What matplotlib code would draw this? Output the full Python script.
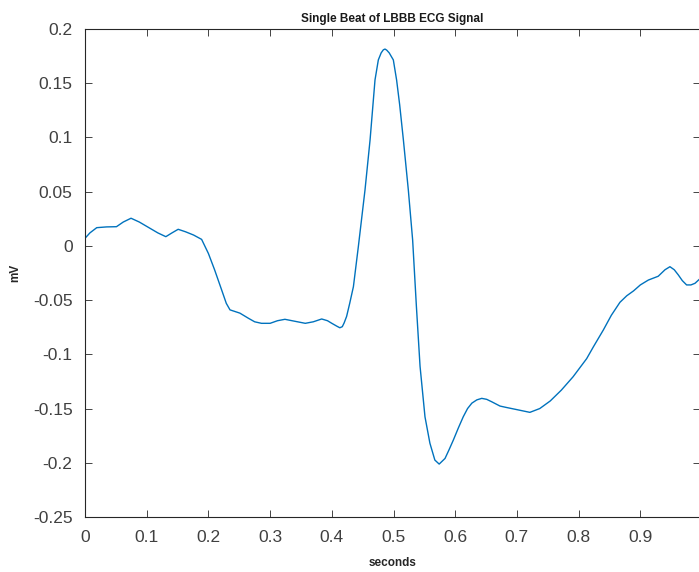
import matplotlib
matplotlib.use("Agg")
import matplotlib.pyplot as plt

plt.rcParams['font.family'] = ['Liberation Sans', 'DejaVu Sans']

seconds = [0.000, 0.008, 0.019, 0.035, 0.051, 0.062, 0.0746, 0.088, 0.103, 0.118,
           0.131, 0.141, 0.151, 0.163, 0.176, 0.189, 0.200, 0.210, 0.2215, 0.229,
           0.235, 0.251, 0.265, 0.275, 0.286, 0.300, 0.312, 0.324, 0.340, 0.357,
           0.370, 0.3836, 0.393, 0.400, 0.408, 0.413, 0.417, 0.420, 0.424, 0.429,
           0.435, 0.443, 0.4538, 0.462, 0.470, 0.4754, 0.480, 0.4835, 0.4862, 0.489,
           0.493, 0.4997, 0.505, 0.510, 0.516, 0.524, 0.531, 0.537, 0.543, 0.551,
           0.559, 0.567, 0.574, 0.5835, 0.590, 0.597, 0.605, 0.613, 0.620, 0.627,
           0.635, 0.643, 0.651, 0.659, 0.6726, 0.683, 0.700, 0.721, 0.737, 0.754,
           0.772, 0.791, 0.813, 0.824, 0.840, 0.853, 0.867, 0.878, 0.889, 0.900,
           0.913, 0.929, 0.940, 0.948, 0.955, 0.9616, 0.968, 0.975, 0.982, 0.9886,
           0.9972]
millivolts = [0.007, 0.012, 0.0168, 0.0175, 0.0177, 0.022, 0.0255, 0.022, 0.017, 0.012,
              0.0085, 0.012, 0.0153, 0.013, 0.010, 0.006, -0.007, -0.022, -0.0407, -0.053,
              -0.059, -0.062, -0.0668, -0.070, -0.0714, -0.0714, -0.069, -0.0677, -0.0695, -0.0714,
              -0.070, -0.0674, -0.069, -0.0714, -0.074, -0.0755, -0.0745, -0.071, -0.065, -0.053,
              -0.0376, -0.0007, 0.0516, 0.0977, 0.153, 0.1715, 0.178, 0.1808, 0.1815, 0.1805,
              0.178, 0.1715, 0.153, 0.130, 0.0977, 0.0516, 0.0054, -0.055, -0.111, -0.1576,
              -0.182, -0.1975, -0.2012, -0.196, -0.188, -0.179, -0.168, -0.1576, -0.150, -0.145,
              -0.142, -0.1406, -0.1415, -0.1437, -0.1477, -0.149, -0.151, -0.1535, -0.150, -0.143,
              -0.133, -0.1207, -0.104, -0.093, -0.0776, -0.064, -0.052, -0.046, -0.0415, -0.036,
              -0.0315, -0.028, -0.022, -0.0192, -0.022, -0.0268, -0.032, -0.036, -0.036, -0.0345,
              -0.030]

xticks = [0, 0.1, 0.2, 0.3, 0.4, 0.5, 0.6, 0.7, 0.8, 0.9]
xticklabels = ['0', '0.1', '0.2', '0.3', '0.4', '0.5', '0.6', '0.7', '0.8', '0.9']
yticks = [-0.25, -0.2, -0.15, -0.1, -0.05, 0, 0.05, 0.1, 0.15, 0.2]
yticklabels = ['-0.25', '-0.2', '-0.15', '-0.1', '-0.05', '0', '0.05', '0.1', '0.15', '0.2']

fig = plt.figure(figsize=(6.99, 5.72), dpi=100)
ax = fig.add_axes([85/699, 55/572, 615.3/699, 488/572])
ax.plot(seconds, millivolts, color='#0072BD', lw=1.0)
ax.set_xlim(0, 0.9972)
ax.set_ylim(-0.25, 0.2)
ax.set_xticks(xticks)
ax.set_xticklabels(xticklabels)
ax.set_yticks(yticks)
ax.set_yticklabels(yticklabels)
ax.tick_params(direction='in', top=True, right=True, length=5, width=0.6,
               colors='#262626', labelsize=12.5, labelcolor='#404040')
ax.tick_params(axis='x', pad=9)
ax.tick_params(axis='y', pad=9)
for s in ax.spines.values():
    s.set_color('#262626')
    s.set_linewidth(0.8)
ax.set_title('Single Beat of LBBB ECG Signal', fontsize=8.5, fontweight='bold',
             color='#1a1a1a', pad=5)
ax.set_xlabel('seconds', fontsize=8.5, fontweight='bold', color='#262626', labelpad=9)
ax.set_ylabel('mV', fontsize=8.5, fontweight='bold', color='#262626', labelpad=8)
fig.savefig('out.png', dpi=100)
